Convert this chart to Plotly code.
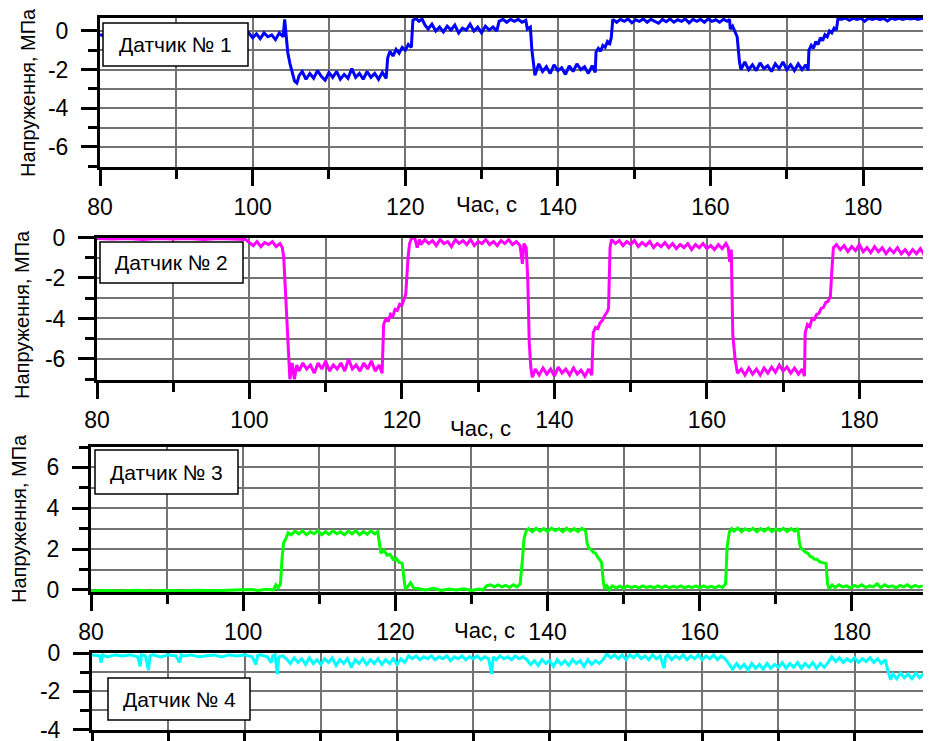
import plotly.graph_objects as go

# ---------------- data (time s, stress MPa) ----------------
sensor1 = [
    (80, -0.2), (81, -0.3), (82, -0.15), (83, -0.25), (84, -0.2), (85, -0.3), (86, -0.15), (87, -0.25),
    (88, -0.2), (89, -0.3), (90, -0.2), (91, -0.25), (92, -0.15), (93, -0.3), (94, -0.2), (95, -0.25),
    (96, -0.15), (97, -0.3), (98, -0.2), (99, -0.25),
    (99.5, -0.1), (100, -0.35), (100.5, -0.15), (101, -0.4), (101.5, -0.1), (102, -0.3), (102.5, -0.2),
    (103, -0.45), (103.5, -0.1), (104, -0.3), (104.2, 0.6), (104.4, -0.2), (104.6, -1.1), (104.9, -1.7),
    (105.2, -2.2), (105.5, -2.6), (105.8, -2.7), (106.1, -2.3),
    (106.5, -2.1), (107, -2.5), (107.5, -2.2), (108, -2.45), (108.5, -2.05), (109, -2.35), (109.5, -2.55),
    (110, -2.15), (110.5, -2.4), (111, -2.1), (111.5, -2.5), (112, -2.25), (112.5, -2.45), (113, -1.95),
    (113.5, -2.4), (114, -2.2), (114.5, -2.5), (115, -2.1), (115.5, -2.4), (116, -2.2), (116.5, -2.5),
    (117, -2.15), (117.5, -2.45),
    (117.7, -1.4), (118, -1.05), (118.4, -1.3), (118.8, -0.95), (119.2, -1.15), (119.6, -0.85), (120, -1.0),
    (120.4, -0.7), (120.8, -0.85), (121, 0.55), (121.4, 0.65), (121.8, 0.5), (122.2, 0.62), (122.6, 0.3),
    (123, 0.1), (123.5, 0.35), (124, 0.0), (124.5, 0.2), (125, -0.05), (125.5, 0.25), (126, 0.05),
    (126.5, 0.3), (127, -0.1), (127.5, 0.15), (128, 0.05), (128.5, 0.35), (129, 0.0), (129.5, 0.2),
    (130, -0.1), (130.5, 0.25), (131, 0.05), (131.5, 0.2), (132, 0.0), (132.3, 0.5), (132.8, 0.6),
    (133.3, 0.45), (133.8, 0.6), (134.3, 0.5), (134.8, 0.6), (135.3, 0.45), (135.8, 0.55), (136.0, 0.1),
    (136.4, 0.2), (136.6, -1.0), (136.8, -1.8), (137.0, -2.3),
    (137.5, -1.7), (138, -2.1), (138.5, -1.85), (139, -2.2), (139.5, -1.75), (140, -2.05), (140.5, -1.9),
    (141, -2.25), (141.5, -1.8), (142, -2.1), (142.5, -1.7), (143, -2.0), (143.5, -1.85), (144, -2.2),
    (144.5, -1.8), (144.9, -2.15),
    (145.0, -1.1), (145.3, -0.9), (145.6, -1.05), (145.9, -0.75), (146.2, -0.85), (146.5, -0.55),
    (146.8, -0.65), (147.0, -0.35), (147.2, 0.6),
    (147.7, 0.45), (148.2, 0.6), (148.7, 0.5), (149.2, 0.62), (149.7, 0.42), (150.2, 0.58), (150.7, 0.5),
    (151.2, 0.62), (151.7, 0.45), (152.2, 0.6), (152.7, 0.5), (153.2, 0.4), (153.7, 0.6), (154.2, 0.48),
    (154.7, 0.62), (155.2, 0.45), (155.7, 0.58), (156.2, 0.5), (156.7, 0.62), (157.2, 0.42), (157.7, 0.6),
    (158.2, 0.5), (158.7, 0.6), (159.2, 0.45), (159.7, 0.62), (160.2, 0.5), (160.7, 0.58), (161.2, 0.45),
    (161.7, 0.6), (162.2, 0.5), (162.5, 0.6),
    (162.6, 0.1), (162.9, 0.25), (163.2, 0.0), (163.5, -0.3), (163.8, -1.6), (164.0, -2.0),
    (164.5, -1.6), (165, -2.0), (165.5, -1.75), (166, -2.05), (166.5, -1.65), (167, -1.95), (167.5, -1.8),
    (168, -2.1), (168.5, -1.7), (169, -1.95), (169.5, -1.6), (170, -2.0), (170.5, -1.75), (171, -2.05),
    (171.5, -1.7), (172, -2.0), (172.5, -1.75), (172.8, -2.05),
    (172.9, -1.0), (173.2, -0.75), (173.5, -0.9), (173.8, -0.55), (174.1, -0.7), (174.4, -0.35),
    (174.7, -0.5), (175.0, -0.2), (175.3, -0.3), (175.6, 0.0), (175.9, -0.1), (176.2, 0.15), (176.5, 0.05),
    (176.7, 0.62),
    (177.2, 0.6), (177.7, 0.66), (178.2, 0.55), (178.7, 0.65), (179.2, 0.6), (179.7, 0.66), (180.2, 0.5),
    (180.7, 0.65), (181.2, 0.6), (181.7, 0.66), (182.2, 0.58), (182.7, 0.65), (183.2, 0.52), (183.7, 0.66),
    (184.2, 0.6), (184.7, 0.66), (185.2, 0.6), (185.7, 0.65), (186.2, 0.62), (186.7, 0.66), (187.2, 0.6),
    (187.7, 0.65), (188.2, 0.62), (188.9, 0.65),
]

sensor2 = [
    (80, -0.05), (82, -0.08), (84, -0.05), (86, -0.1), (88, -0.05), (90, -0.08), (92, -0.05), (94, -0.1),
    (96, -0.05), (98, -0.08), (99.5, -0.1),
    (100, -0.25), (100.5, -0.4), (101, -0.2), (101.5, -0.45), (102, -0.25), (102.5, -0.35), (103, -0.2),
    (103.5, -0.45), (104, -0.3), (104.3, -0.5), (104.5, -1.0), (104.7, -2.5), (104.9, -4.7), (105.1, -6.0),
    (105.3, -7.0), (105.6, -6.2), (105.9, -7.0), (106.2, -6.3),
    (106.5, -6.6), (107, -6.2), (107.5, -6.5), (108, -6.3), (108.5, -6.7), (109, -6.2), (109.5, -6.5),
    (110, -6.1), (110.5, -6.6), (111, -6.3), (111.5, -6.5), (112, -6.2), (112.5, -6.6), (113, -6.0),
    (113.5, -6.5), (114, -6.3), (114.5, -6.6), (115, -6.2), (115.5, -6.5), (116, -6.1), (116.5, -6.6),
    (117, -6.3), (117.4, -6.7),
    (117.6, -4.3), (117.9, -4.0), (118.2, -4.15), (118.5, -3.8), (118.8, -3.9), (119.1, -3.55),
    (119.4, -3.6), (119.7, -3.3), (120.0, -3.35), (120.3, -3.0), (120.5, -2.8), (120.8, -1.0), (121.0, -0.3),
    (121.3, 0.0), (121.7, -0.05), (122.0, -0.5), (122.3, -0.1),
    (122.5, -0.35), (123, -0.1), (123.5, -0.3), (124, -0.15), (124.5, -0.4), (125, -0.1), (125.5, -0.3),
    (126, -0.2), (126.5, -0.45), (127, -0.1), (127.5, -0.3), (128, -0.15), (128.5, -0.35), (129, -0.1),
    (129.5, -0.4), (130, -0.2), (130.5, -0.3), (131, -0.1), (131.5, -0.35), (132, -0.2), (132.5, -0.4),
    (133, -0.15), (133.5, -0.3), (134, -0.1), (134.5, -0.35), (135, -0.2), (135.5, -0.4), (135.8, -1.3),
    (136.0, -0.3), (136.3, -0.5), (136.5, -2.0), (136.7, -5.2), (136.9, -6.4), (137.1, -6.9),
    (137.5, -6.5), (138, -6.8), (138.5, -6.45), (139, -6.75), (139.5, -6.5), (140, -6.85), (140.5, -6.4),
    (141, -6.7), (141.5, -6.5), (142, -6.8), (142.5, -6.45), (143, -6.75), (143.5, -6.55), (144, -6.85),
    (144.5, -6.5), (144.9, -6.8),
    (145.1, -4.7), (145.4, -4.45), (145.7, -4.5), (146.0, -4.2), (146.3, -4.1), (146.6, -3.85),
    (146.9, -3.7), (147.1, -3.5), (147.3, -0.5), (147.5, -0.1),
    (148, -0.3), (148.5, -0.15), (149, -0.4), (149.5, -0.2), (150, -0.35), (150.5, -0.15), (151, -0.45),
    (151.5, -0.25), (152, -0.4), (152.5, -0.2), (153, -0.5), (153.5, -0.3), (154, -0.45), (154.5, -0.25),
    (155, -0.5), (155.5, -0.3), (156, -0.55), (156.5, -0.35), (157, -0.5), (157.5, -0.3), (158, -0.6),
    (158.5, -0.35), (159, -0.5), (159.5, -0.3), (160, -0.55), (160.5, -0.4), (161, -0.6), (161.5, -0.35),
    (162, -0.55), (162.5, -0.3), (162.8, -0.5), (163.0, -1.2), (163.2, -0.6), (163.4, -4.8), (163.7, -6.0),
    (164.0, -6.7),
    (164.5, -6.5), (165, -6.8), (165.5, -6.45), (166, -6.75), (166.5, -6.5), (167, -6.8), (167.5, -6.45),
    (168, -6.7), (168.5, -6.4), (169, -6.65), (169.5, -6.3), (170, -6.6), (170.5, -6.4), (171, -6.7),
    (171.5, -6.45), (172, -6.75), (172.5, -6.5), (172.8, -6.85),
    (172.9, -4.7), (173.2, -4.3), (173.5, -4.4), (173.8, -4.0), (174.1, -4.05), (174.4, -3.8),
    (174.7, -3.75), (175.0, -3.5), (175.3, -3.45), (175.6, -3.2), (175.9, -3.15), (176.2, -2.9),
    (176.4, -1.6), (176.6, -0.5),
    (177, -0.35), (177.5, -0.6), (178, -0.4), (178.5, -0.7), (179, -0.45), (179.5, -0.65), (180, -0.35),
    (180.5, -0.7), (181, -0.5), (181.5, -0.75), (182, -0.45), (182.5, -0.7), (183, -0.5), (183.5, -0.8),
    (184, -0.55), (184.5, -0.75), (185, -0.5), (185.5, -0.8), (186, -0.6), (186.5, -0.85), (187, -0.6),
    (187.5, -0.8), (188, -0.55), (188.5, -0.85), (189, -0.65), (189.3, -0.8),
]

sensor3 = [
    (80, -0.05), (82, -0.03), (84, -0.05), (86, -0.02), (88, -0.05), (90, -0.03), (92, -0.05), (94, -0.02),
    (96, -0.04), (98, -0.03), (100, -0.02), (101, 0.02), (102, -0.02), (103, 0.03), (104, 0.0),
    (104.3, 0.25), (104.6, 0.1), (104.9, 0.3), (105.1, 1.5), (105.3, 2.3), (105.6, 2.5), (105.9, 2.8),
    (106.3, 2.7), (106.8, 2.88), (107.3, 2.75), (107.8, 2.9), (108.3, 2.7), (108.8, 2.85), (109.3, 2.75),
    (109.8, 2.9), (110.3, 2.7), (110.8, 2.85), (111.3, 2.72), (111.8, 2.9), (112.3, 2.75), (112.8, 2.85),
    (113.3, 2.7), (113.8, 2.88), (114.3, 2.75), (114.8, 2.9), (115.3, 2.7), (115.8, 2.85), (116.3, 2.72),
    (116.8, 2.9), (117.3, 2.75), (117.7, 2.85),
    (117.9, 2.3), (118.1, 1.8), (118.5, 1.95), (118.9, 1.7), (119.3, 1.75), (119.7, 1.5), (120.1, 1.55),
    (120.5, 1.35), (120.9, 1.3), (121.1, 0.6), (121.3, 0.05), (121.6, 0.15), (122.0, 0.35), (122.4, 0.1),
    (123, 0.05), (124, 0.0), (125, 0.08), (126, -0.02), (127, 0.05), (128, 0.0), (129, 0.06), (130, -0.03),
    (131, 0.05), (131.5, 0.0), (132, 0.2), (132.5, 0.25), (133, 0.15), (133.5, 0.25), (134, 0.15),
    (134.5, 0.22), (135, 0.12), (135.5, 0.25), (136, 0.15), (136.4, 0.3),
    (136.7, 1.5), (136.9, 2.5), (137.2, 2.9),
    (137.5, 3.0), (138, 2.85), (138.5, 3.02), (139, 2.88), (139.5, 3.0), (140, 2.85), (140.5, 3.03),
    (141, 2.9), (141.5, 3.0), (142, 2.85), (142.5, 3.02), (143, 2.88), (143.5, 3.0), (144, 2.86),
    (144.5, 3.02), (145, 2.9),
    (145.2, 2.3), (145.4, 2.05), (145.7, 2.0), (146.0, 1.85), (146.3, 1.8), (146.6, 1.6), (146.9, 1.45),
    (147.1, 1.35), (147.3, 0.5), (147.5, 0.05), (147.8, 0.2), (148.1, 0.0),
    (148.5, 0.2), (149, 0.1), (149.5, 0.18), (150, 0.08), (150.5, 0.2), (151, 0.12), (151.5, 0.18),
    (152, 0.1), (152.5, 0.2), (153, 0.12), (153.5, 0.18), (154, 0.1), (154.5, 0.2), (155, 0.12),
    (155.5, 0.2), (156, 0.1), (156.5, 0.18), (157, 0.12), (157.5, 0.2), (158, 0.1), (158.5, 0.18),
    (159, 0.12), (159.5, 0.2), (160, 0.1), (160.5, 0.2), (161, 0.12), (161.5, 0.18), (162, 0.1),
    (162.5, 0.2), (163, 0.12), (163.4, 0.3),
    (163.6, 2.1), (163.9, 2.85), (164.2, 3.0),
    (164.5, 2.88), (165, 3.03), (165.5, 2.85), (166, 3.0), (166.5, 2.9), (167, 3.02), (167.5, 2.85),
    (168, 3.0), (168.5, 2.88), (169, 3.03), (169.5, 2.86), (170, 3.0), (170.5, 2.9), (171, 3.02),
    (171.5, 2.86), (172, 3.0), (172.5, 2.88), (172.9, 3.02),
    (173.1, 2.3), (173.3, 2.05), (173.6, 1.95), (173.9, 1.85), (174.2, 1.8), (174.5, 1.65), (174.8, 1.6),
    (175.1, 1.5), (175.4, 1.5), (175.7, 1.4), (176.0, 1.35), (176.4, 1.3), (176.6, 1.3), (176.8, 0.3),
    (177.0, 0.05),
    (177.4, 0.25), (177.8, 0.12), (178.3, 0.25), (178.8, 0.15), (179.3, 0.2), (179.8, 0.1), (180.3, 0.22),
    (180.8, 0.15), (181.3, 0.25), (181.8, 0.12), (182.3, 0.2), (182.8, 0.15), (183.3, 0.3), (183.8, 0.12),
    (184.3, 0.25), (184.8, 0.15), (185.3, 0.2), (185.8, 0.1), (186.3, 0.22), (186.8, 0.15), (187.3, 0.25),
    (187.8, 0.12), (188.3, 0.22), (188.8, 0.15), (189.3, 0.2),
]

sensor4 = [
    (80, -0.1), (81, -0.15), (81.2, -0.5), (81.4, -0.1), (82, -0.2), (83, -0.1), (84, -0.15), (85, -0.1),
    (86, -0.2), (86.3, -0.7), (86.5, -0.1), (87, -0.15), (87.4, -0.9), (87.6, -0.15), (88, -0.1),
    (89, -0.2), (90, -0.1), (91, -0.15), (91.5, -0.5), (91.7, -0.1), (92, -0.15), (93, -0.1), (94, -0.2),
    (95, -0.15), (96, -0.1), (97, -0.2), (98, -0.1), (99, -0.15), (100, -0.1), (101, -0.2), (101.5, -0.6),
    (101.7, -0.15), (102, -0.1), (103, -0.2), (103.5, -0.5), (103.7, -0.15), (104, -0.1), (104.3, -1.1),
    (104.5, -0.2), (105, -0.15),
    (105.5, -0.3), (106, -0.55), (106.5, -0.25), (107, -0.5), (107.5, -0.3), (108, -0.6), (108.5, -0.25),
    (109, -0.55), (109.5, -0.35), (110, -0.6), (110.5, -0.3), (111, -0.5), (111.5, -0.25), (112, -0.65),
    (112.5, -0.35), (113, -0.55), (113.5, -0.3), (114, -0.75), (114.5, -0.35), (115, -0.55), (115.5, -0.3),
    (116, -0.6), (116.5, -0.35), (117, -0.55), (117.5, -0.3), (118, -0.6), (118.5, -0.35), (119, -0.55),
    (119.5, -0.3), (120, -0.6), (120.5, -0.3), (121, -0.5),
    (121.5, -0.15), (122, -0.3), (122.5, -0.15), (123, -0.35), (123.5, -0.2), (124, -0.3), (124.5, -0.15),
    (125, -0.35), (125.5, -0.2), (126, -0.3), (126.5, -0.15), (127, -0.4), (127.5, -0.2), (128, -0.3),
    (128.5, -0.15), (129, -0.35), (129.5, -0.2), (130, -0.3), (130.5, -0.15), (131, -0.35), (131.5, -0.2),
    (132, -0.3), (132.4, -1.1), (132.6, -0.2), (133, -0.35), (133.5, -0.15), (134, -0.3), (134.5, -0.2),
    (135, -0.35), (135.5, -0.15), (136, -0.3), (136.5, -0.2),
    (137, -0.35), (137.5, -0.6), (138, -0.4), (138.5, -0.65), (139, -0.35), (139.5, -0.55), (140, -0.4),
    (140.5, -0.7), (141, -0.35), (141.5, -0.6), (142, -0.4), (142.5, -0.65), (143, -0.35), (143.5, -0.55),
    (144, -0.4), (144.5, -0.7), (145, -0.35), (145.5, -0.6), (146, -0.4), (146.5, -0.55), (147, -0.35),
    (147.5, -0.05), (148, -0.25), (148.5, -0.1), (149, -0.3), (149.5, -0.1), (150, -0.35), (150.5, -0.1),
    (151, -0.25), (151.5, -0.05), (152, -0.3), (152.5, -0.15), (153, -0.35), (153.5, -0.1), (154, -0.3),
    (154.5, -0.15), (155, -0.8), (155.2, -0.2), (155.5, -0.1), (156, -0.35), (156.5, -0.15), (157, -0.3),
    (157.5, -0.1), (158, -0.35), (158.5, -0.15), (159, -0.3), (159.5, -0.1), (160, -0.35), (160.5, -0.15),
    (161, -0.3), (161.5, -0.1), (162, -0.35), (162.5, -0.15), (163, -0.3),
    (163.5, -0.6), (164, -0.85), (164.5, -0.55), (165, -0.8), (165.5, -0.6), (166, -0.9), (166.5, -0.55),
    (167, -0.8), (167.5, -0.6), (168, -0.85), (168.5, -0.55), (169, -0.8), (169.5, -0.6), (170, -0.75),
    (170.5, -0.5), (171, -0.8), (171.5, -0.55), (172, -0.75), (172.5, -0.5), (173, -0.8), (173.5, -0.55),
    (174, -0.75), (174.5, -0.5), (175, -0.8), (175.5, -0.55), (176, -0.75), (176.5, -0.5),
    (177, -0.2), (177.5, -0.45), (178, -0.25), (178.5, -0.5), (179, -0.3), (179.5, -0.45), (180, -0.25),
    (180.5, -0.5), (181, -0.3), (181.5, -0.45), (182, -0.25), (182.5, -0.5), (183, -0.3), (183.5, -0.55),
    (184, -0.35),
    (184.4, -1.0), (184.7, -1.4), (185, -1.1), (185.5, -1.35), (186, -1.05), (186.5, -1.3), (187, -1.1),
    (187.5, -1.35), (188, -1.05), (188.5, -1.3), (189, -1.1), (189.2, -1.25),
]

sensor_names = ["Датчик № 1", "Датчик № 2", "Датчик № 3", "Датчик № 4"]
sensor_colors = ["#0000FF", "#FF00FF", "#00FF00", "#00FFFF"]
y_ticks = [[-6, -4, -2, 0], [-6, -4, -2, 0], [0, 2, 4, 6], [-4, -2, 0]]
x_ticks = [80, 100, 120, 140, 160, 180]
x_title = "Час, с"
y_title = "Напруження, МПа"

# ---------------- layout geometry ----------------
# positions below are page pixels of the 931 x 741 window; the page body adds an
# 8 px margin around the figure, so they are converted with that offset.
W, H = 931, 741
OFF = 8
FONT = "Liberation Sans, Arial, sans-serif"
GRID = "#737373"


def fx(px):
    return (px - OFF) / W


def fy(py):
    return 1 - (py - OFF) / H


panels = [
    # x-left, x-right, y-top, y-bottom (page px), x-range, y-range
    dict(l=100, r=931, t=18, b=167, xr=[80, 188.9], yr=[-7.04, 0.67], mirror_y=False, xlabels=True),
    dict(l=97, r=931, t=237.5, b=380, xr=[80, 189.4], yr=[-7.04, 0.0], mirror_y=False, xlabels=True),
    dict(l=91, r=928, t=447, b=592, xr=[80, 190.0], yr=[-0.1, 7.0], mirror_y=True, xlabels=True),
    dict(l=92, r=931, t=653, b=729.5, xr=[80, 190.0], yr=[-4.0, 0.0], mirror_y=False, xlabels=False),
]
boxes = [(103, 248, 23, 66), (100, 243, 242, 283), (95, 238, 450, 494), (108, 250, 678, 720)]
xtitle_pos = [(486, 205), (480, 428), (484, 630), None]
ytitle_pos = [(28, 93), (22, 315), (19, 519), None]

fig = go.Figure()
series = [sensor1, sensor2, sensor3, sensor4]
for i, s in enumerate(series):
    t = [p[0] for p in s]
    v = [p[1] for p in s]
    sfx = "" if i == 0 else str(i + 1)
    fig.add_trace(go.Scatter(x=t, y=v, mode="lines", xaxis="x" + sfx, yaxis="y" + sfx,
                             line=dict(color=sensor_colors[i], width=3), showlegend=False,
                             hoverinfo="skip"))

layout = dict(width=W, height=H, margin=dict(l=0, r=0, t=0, b=0, pad=0, autoexpand=False),
              paper_bgcolor="white", plot_bgcolor="white", showlegend=False,
              font=dict(family=FONT, color="black"))

shapes, annotations = [], []
for i, p in enumerate(panels):
    sfx = "" if i == 0 else str(i + 1)
    xa = dict(domain=[fx(p["l"]), fx(p["r"])], range=p["xr"], anchor="y" + sfx, automargin=False,
              showline=True, linecolor="black", linewidth=3, mirror=True,
              ticks="outside", ticklen=16, tickwidth=3, tickcolor="black",
              tickmode="array", tickvals=x_ticks, ticktext=[str(v) for v in x_ticks],
              showticklabels=p["xlabels"], tickfont=dict(size=23, color="black", family=FONT),
              ticklabelstandoff=1,
              showgrid=True, gridcolor=GRID, gridwidth=2, zeroline=False,
              minor=dict(tickmode="linear", tick0=0, dtick=10, ticks="outside", ticklen=9,
                         tickwidth=3, tickcolor="black", showgrid=True, gridcolor=GRID, gridwidth=2))
    ya = dict(domain=[fy(p["b"]), fy(p["t"])], range=p["yr"], anchor="x" + sfx, automargin=False,
              showline=True, linecolor="black", linewidth=3, mirror=p["mirror_y"],
              ticks="outside", ticklen=16, tickwidth=3, tickcolor="black",
              tickmode="array", tickvals=y_ticks[i], ticktext=[str(v) for v in y_ticks[i]],
              tickfont=dict(size=23, color="black", family=FONT), ticklabelstandoff=8,
              showgrid=True, gridcolor=GRID, gridwidth=2, zeroline=False,
              minor=dict(tickmode="linear", tick0=0, dtick=1, ticks="outside", ticklen=9,
                         tickwidth=3, tickcolor="black", showgrid=True, gridcolor=GRID, gridwidth=2))
    layout["xaxis" + sfx] = xa
    layout["yaxis" + sfx] = ya

    bx0, bx1, by0, by1 = boxes[i]
    shapes.append(dict(type="rect", xref="paper", yref="paper", layer="above",
                       x0=fx(bx0), x1=fx(bx1), y0=fy(by1), y1=fy(by0),
                       line=dict(color="black", width=1.5), fillcolor="white"))
    annotations.append(dict(xref="paper", yref="paper", x=fx((bx0 + bx1) / 2), y=fy((by0 + by1) / 2),
                            text=sensor_names[i], showarrow=False, xanchor="center", yanchor="middle",
                            font=dict(size=21, color="black", family=FONT)))
    if xtitle_pos[i]:
        xx, yy = xtitle_pos[i]
        annotations.append(dict(xref="paper", yref="paper", x=fx(xx), y=fy(yy), text=x_title,
                                showarrow=False, xanchor="center", yanchor="middle",
                                font=dict(size=22, color="black", family=FONT)))
    if ytitle_pos[i]:
        xx, yy = ytitle_pos[i]
        annotations.append(dict(xref="paper", yref="paper", x=fx(xx), y=fy(yy), text=y_title,
                                showarrow=False, xanchor="center", yanchor="middle", textangle=-90,
                                font=dict(size=20, color="black", family=FONT)))

layout["shapes"] = shapes
layout["annotations"] = annotations
fig.update_layout(**layout)
fig.write_html("out.html")
